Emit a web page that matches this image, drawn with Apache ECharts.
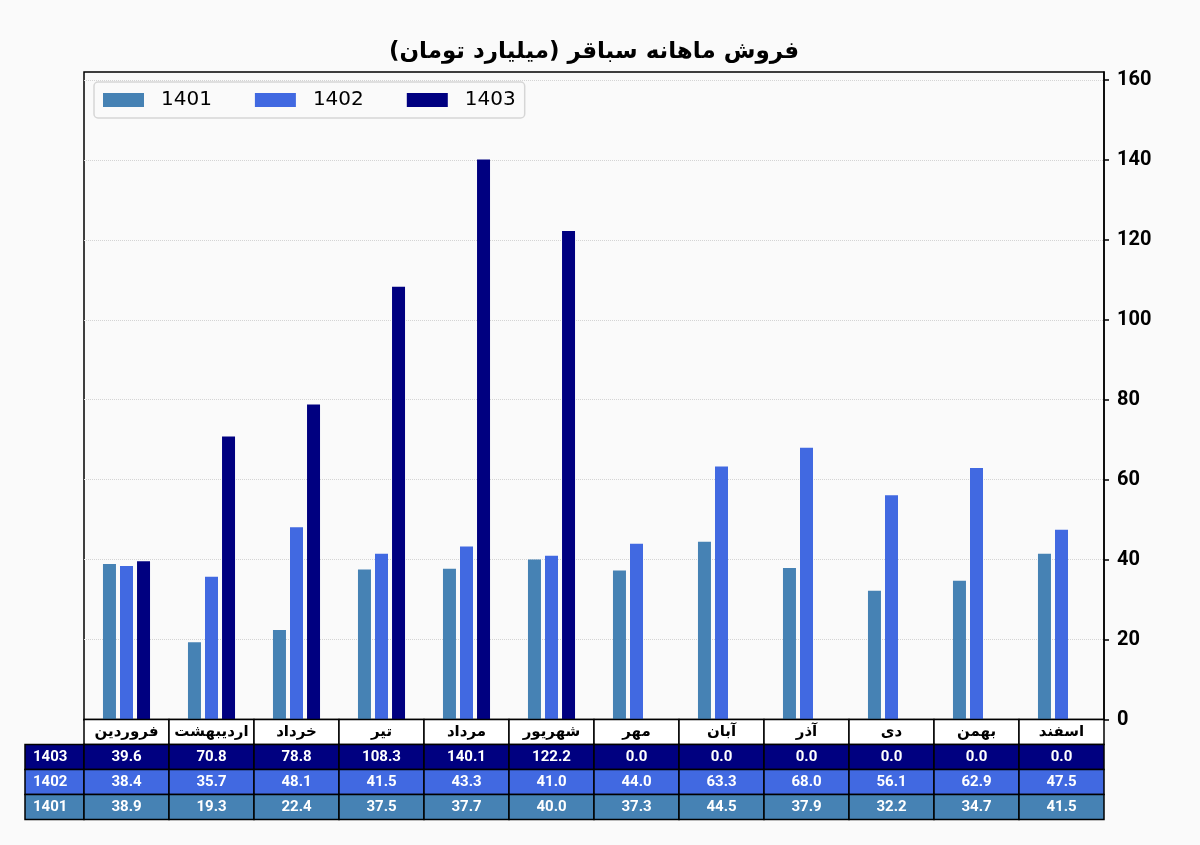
<!DOCTYPE html>
<html>
<head>
<meta charset="utf-8">
<script src="https://cdn.jsdelivr.net/npm/echarts@6.0.0/dist/echarts.min.js"></script>
<style>
html,body{margin:0;padding:0;background:#fafafa;}
#main{width:1200px;height:845px;}
</style>
</head>
<body>
<div id="main"></div>
<script>
// داده‌ها
var months = ['فروردین','اردیبهشت','خرداد','تیر','مرداد','شهریور','مهر','آبان','آذر','دی','بهمن','اسفند'];
var years = ['1401','1402','1403'];
var sales1401 = [38.9, 19.3, 22.4, 37.5, 37.7, 40.0, 37.3, 44.5, 37.9, 32.2, 34.7, 41.5];
var sales1402 = [38.4, 35.7, 48.1, 41.5, 43.3, 41.0, 44.0, 63.3, 68.0, 56.1, 62.9, 47.5];
var sales1403 = [39.6, 70.8, 78.8, 108.3, 140.1, 122.2, 0.0, 0.0, 0.0, 0.0, 0.0, 0.0];
var yTicks = [0, 20, 40, 60, 80, 100, 120, 140, 160];
var colors = ['#4682b4', '#4169e1', '#000080'];
var titleText = 'فروش ماهانه سباقر (میلیارد تومان)';

var chart = echarts.init(document.getElementById('main'));

var seriesData = [sales1401, sales1402, sales1403];
var series = [];
for (var i = 0; i < years.length; ++i) {
    series.push({
        type: 'bar',
        name: years[i],
        data: seriesData[i],
        barWidth: 13,
        barGap: '31%',
        itemStyle: {color: colors[i]}
    });
}

var option = {
    backgroundColor: '#fafafa',
    animation: false,
    color: colors,
    title: {
        text: titleText,
        left: 589,
        top: 36,
        textAlign: 'center',
        textStyle: {
            fontFamily: '"DejaVu Sans"',
            fontSize: 23,
            fontWeight: 'bold',
            color: '#000'
        }
    },
    legend: {
        left: 94,
        top: 82,
        padding: [8, 9, 8, 9],
        itemWidth: 41,
        itemHeight: 14,
        itemGap: 43,
        backgroundColor: '#fafafa',
        borderColor: '#d6d6d6',
        borderWidth: 1.5,
        borderRadius: 4,
        icon: 'rect',
        textStyle: {
            fontFamily: '"DejaVu Sans"',
            fontSize: 20,
            color: '#000',
            padding: [0, 0, 0, 12]
        },
        data: years
    },
    grid: {
        left: 84,
        right: 96,
        top: 72,
        bottom: 125.5,
        show: true,
        borderColor: '#000',
        borderWidth: 1.5,
        backgroundColor: '#fafafa',
        containLabel: false
    },
    xAxis: {
        type: 'category',
        data: months,
        axisLine: {show: true, lineStyle: {color: '#000', width: 1.5}},
        axisTick: {show: false},
        axisLabel: {show: false},
        splitLine: {show: false}
    },
    yAxis: {
        type: 'value',
        position: 'right',
        min: 0,
        max: 162,
        interval: 20,
        axisLine: {show: true, lineStyle: {color: '#000', width: 1.5}},
        axisTick: {show: true, length: 5, lineStyle: {color: '#000', width: 1.5}, customValues: yTicks},
        axisLabel: {
            customValues: yTicks,
            margin: 13,
            color: '#000',
            fontFamily: 'Roboto',
            fontWeight: 'bold',
            fontSize: 20
        },
        splitLine: {show: true, lineStyle: {color: '#d4d4d4', type: 'dotted', width: 1}}
    },
    series: series
};
chart.setOption(option);

// جدول زیر نمودار
var rowH = 25;
var cx0 = chart.convertToPixel({xAxisIndex: 0}, months[0]);
var cw = chart.convertToPixel({xAxisIndex: 0}, months[1]) - cx0;
var tableTop = chart.convertToPixel({yAxisIndex: 0}, 0);
var labelLeft = 25;
var rows = [
    {name: years[2], vals: sales1403, color: colors[2]},
    {name: years[1], vals: sales1402, color: colors[1]},
    {name: years[0], vals: sales1401, color: colors[0]}
];
var elems = [];
function cell(x, y, w, h, fill) {
    elems.push({
        type: 'rect', z: 100,
        shape: {x: x, y: y, width: w, height: h},
        style: {fill: fill, stroke: '#000', lineWidth: 1.5}
    });
}
function txt(x, y, s, font, fill, align) {
    elems.push({
        type: 'text', z: 101, x: x, y: y,
        style: {text: s, font: font, fill: fill, align: align || 'center', verticalAlign: 'middle'}
    });
}
for (var m = 0; m < months.length; ++m) {
    var cx = chart.convertToPixel({xAxisIndex: 0}, months[m]);
    cell(cx - cw / 2, tableTop, cw, rowH, '#ffffff');
    txt(cx, tableTop + rowH / 2, months[m], 'bold 15px "DejaVu Sans"', '#000');
}
for (var r = 0; r < rows.length; ++r) {
    var y = tableTop + rowH * (r + 1);
    cell(labelLeft, y, cx0 - cw / 2 - labelLeft, rowH, rows[r].color);
    txt(labelLeft + 8, y + rowH / 2, rows[r].name, 'bold 15px Roboto', '#fff', 'left');
    for (var k = 0; k < months.length; ++k) {
        var cxk = chart.convertToPixel({xAxisIndex: 0}, months[k]);
        cell(cxk - cw / 2, y, cw, rowH, rows[r].color);
        txt(cxk, y + rowH / 2, rows[r].vals[k].toFixed(1), 'bold 15px Roboto', '#fff');
    }
}
chart.setOption({graphic: {elements: elems}});
</script>
</body>
</html>
